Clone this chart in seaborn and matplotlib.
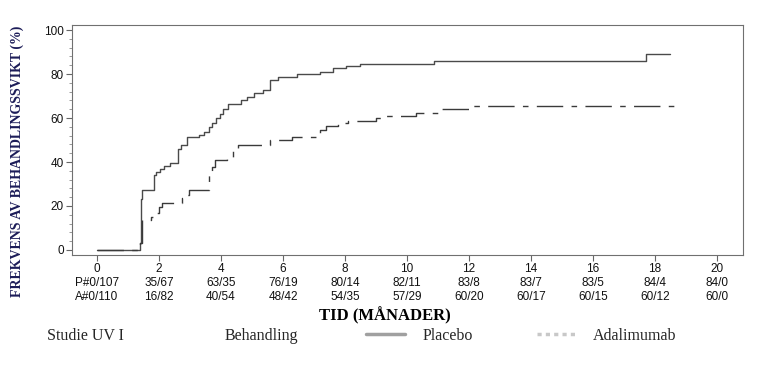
import pandas as pd
import seaborn as sns
import matplotlib.pyplot as plt
from matplotlib.lines import Line2D
from matplotlib.ticker import AutoMinorLocator

# Kaplan-Meier style step curves (months, % treatment failure)
placebo_t = [0, 1.39, 1.42, 1.46, 1.85, 1.92, 2.02, 2.15, 2.35, 2.6, 2.7, 2.92,
             3.3, 3.45, 3.6, 3.72, 3.83, 3.98, 4.08, 4.22, 4.65, 4.85, 5.05,
             5.35, 5.58, 5.85, 6.45, 7.2, 7.62, 8.05, 8.48, 10.88, 17.7, 18.48]
placebo_v = [0, 3, 23, 27.3, 34, 35.6, 37, 38, 39.4, 46, 47.7, 51.2,
             52.3, 53.8, 56, 57.9, 59.8, 62, 64, 66.2, 68.2, 69.7, 71.6,
             72.8, 77.3, 78.5, 80, 81, 82.6, 83.7, 84.6, 86.1, 89, 89]

adali_t = [0, 1.39, 1.44, 1.75, 1.9, 2.0, 2.1, 2.75, 2.87, 2.97, 3.62, 3.7,
           3.82, 4.18, 4.4, 4.56, 5.58, 6.3, 7.19, 7.4, 7.78, 8.1, 9.0, 9.24,
           10.3, 11.1, 12.03, 18.72]
adali_v = [0, 3, 13.6, 15.2, 16.7, 19.7, 21.2, 23.5, 25, 27.3, 34.8, 37.9,
           41, 41.8, 44.8, 47.8, 50, 51.2, 54.5, 56.4, 57.9, 58.6, 59.8, 61,
           62.5, 64, 65.6, 65.6]

# number at risk table under the x axis
months = [0, 2, 4, 6, 8, 10, 12, 14, 16, 18, 20]
placebo_risk = ['P#0/107', '35/67', '63/35', '76/19', '80/14', '82/11',
                '83/8', '83/7', '83/5', '84/4', '84/0']
adali_risk = ['A#0/110', '16/82', '40/54', '48/42', '54/35', '57/29',
              '60/20', '60/17', '60/15', '60/12', '60/0']

df = pd.concat([
    pd.DataFrame({'t': placebo_t, 'v': placebo_v, 'grp': 'Placebo'}),
    pd.DataFrame({'t': adali_t, 'v': adali_v, 'grp': 'Adalimumab'}),
])

sns.set_style("white")
plt.rcParams['font.family'] = ['Liberation Sans', 'DejaVu Sans']

fig = plt.figure(figsize=(7.6, 3.69), dpi=100)
ax = fig.add_axes([0.0947, 0.3089, 0.8829, 0.6233])

sns.lineplot(data=df[df.grp == 'Placebo'], x='t', y='v', ax=ax,
             drawstyle='steps-post', color='#4a4a4a', lw=1.0,
             estimator=None, sort=False)
sns.lineplot(data=df[df.grp == 'Adalimumab'], x='t', y='v', ax=ax,
             drawstyle='steps-post', color='#3a3a3a', lw=1.0,
             estimator=None, sort=False, linestyle=(0, (19, 6, 4, 6)))

ax.set_xlim(-0.806, 20.84)
ax.set_ylim(-2.3, 102.3)
ax.set_xticks(months)
ax.set_xticklabels([f'{m}\n{p}\n{a}' for m, p, a in zip(months, placebo_risk, adali_risk)],
                   linespacing=1.2)
ax.set_yticks([0, 20, 40, 60, 80, 100])
ax.yaxis.set_minor_locator(AutoMinorLocator(5))
ax.tick_params(axis='both', which='major', direction='out', length=4, width=0.8,
               color='#666666', labelsize=8.5, labelcolor='#111111', pad=2,
               bottom=True, left=True)
ax.tick_params(axis='y', which='minor', direction='out', length=2, width=0.6,
               color='#888888', left=True)
ax.set_xlabel('')
ax.set_ylabel('')
for s in ax.spines.values():
    s.set_color('#707070')
    s.set_linewidth(0.8)

serif = ['Liberation Serif', 'DejaVu Serif']
fig.text(17 / 760, 1 - 161 / 369, 'FREKVENS AV BEHANDLINGSSVIKT (%)', rotation=90,
         ha='center', va='center', family=serif, fontweight='bold', fontsize=10,
         color='#1c1c58')
fig.text(385 / 760, 1 - 316 / 369, 'TID (MÅNADER)', ha='center', va='center',
         family=serif, fontweight='bold', fontsize=12, color='black')
fig.text(47 / 760, 1 - 336 / 369, 'Studie UV I', ha='left', va='center',
         family=serif, fontsize=11.5)
fig.text(225 / 760, 1 - 336 / 369, 'Behandling', ha='left', va='center',
         family=serif, fontsize=11.5)

handles = [Line2D([], [], color='#a0a0a0', lw=2.5),
           Line2D([], [], color='#c8c8c8', lw=2.5, linestyle=(0, (1.2, 1.2)))]
fig.legend(handles, ['Placebo', 'Adalimumab'], ncol=2, frameon=False,
           loc='center left', bbox_to_anchor=(352 / 760, 1 - 336 / 369),
           prop={'family': serif, 'size': 11.5}, handlelength=2.4,
           handletextpad=1.1, columnspacing=4.0)

plt.savefig('out.png', dpi=100)
plt.close()
